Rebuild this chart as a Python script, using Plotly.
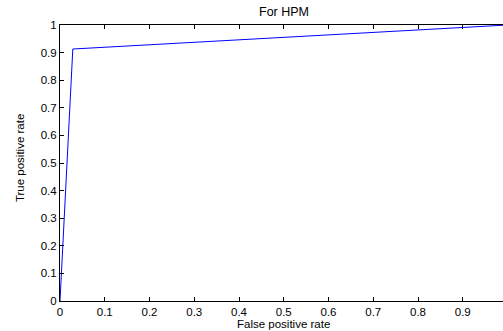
import plotly.graph_objects as go

fpr = [0.0, 0.0286, 1.0]
tpr = [0.0, 0.913, 1.0]
xticks = [0, 0.1, 0.2, 0.3, 0.4, 0.5, 0.6, 0.7, 0.8, 0.9]
xticklabels = ["0", "0.1", "0.2", "0.3", "0.4", "0.5", "0.6", "0.7", "0.8", "0.9"]
yticks = [0, 0.1, 0.2, 0.3, 0.4, 0.5, 0.6, 0.7, 0.8, 0.9, 1.0]
yticklabels = ["0", "0.1", "0.2", "0.3", "0.4", "0.5", "0.6", "0.7", "0.8", "0.9", "1"]
title = "For HPM"
xlabel = "False positive rate"
ylabel = "True positive rate"

fam = "Liberation Sans, Arial, sans-serif"
tickfont = dict(family=fam, size=11.5, color="#000000")
font = dict(family=fam, size=11.5, color="#000000")
tfont = dict(family=fam, size=12.5, color="#000000")

fig = go.Figure()
fig.add_trace(go.Scatter(x=fpr, y=tpr, mode="lines",
                         line=dict(color="#0000FF", width=1), showlegend=False,
                         hoverinfo="skip"))

L, T, B = 59.5, 24.5, 29.7
W, H = 503, 331
px_per_unit = 448
xmax = (W - L) / px_per_unit
cx = (283.5 - L) / (W - L)
cy = (H - B - 158) / (H - T - B)

fig.update_layout(
    width=W, height=H,
    margin=dict(l=L, r=0, t=T, b=B, pad=0),
    paper_bgcolor="white", plot_bgcolor="white",
    font=font,
    xaxis=dict(range=[0, xmax], tickvals=xticks, ticktext=xticklabels,
               ticks="inside", ticklen=4, tickwidth=1, tickcolor="#000",
               showline=True, linecolor="#000", linewidth=1, mirror="ticks",
               showgrid=False, zeroline=False, tickfont=tickfont, fixedrange=True,
               ticklabelstandoff=0),
    yaxis=dict(range=[0, 1], tickvals=yticks, ticktext=yticklabels,
               ticks="inside", ticklen=4, tickwidth=1, tickcolor="#000",
               showline=True, linecolor="#000", linewidth=1,
               showgrid=False, zeroline=False, tickfont=tickfont, fixedrange=True),
    annotations=[
        dict(text=title, xref="paper", yref="paper", x=cx, y=1,
             xanchor="center", yanchor="bottom", yshift=4, showarrow=False, font=tfont),
        dict(text=xlabel, xref="paper", yref="paper", x=cx, y=0,
             xanchor="center", yanchor="bottom", yshift=-B, borderpad=0,
             showarrow=False, font=font),
        dict(text=ylabel, xref="paper", yref="paper", x=0, y=cy,
             textangle=-90, xanchor="center", yanchor="middle", xshift=-40,
             showarrow=False, font=font),
    ],
)

fig.write_html("out.html", config={"displayModeBar": False},
               post_script="document.body.style.margin='0';document.body.style.overflow='hidden';")
